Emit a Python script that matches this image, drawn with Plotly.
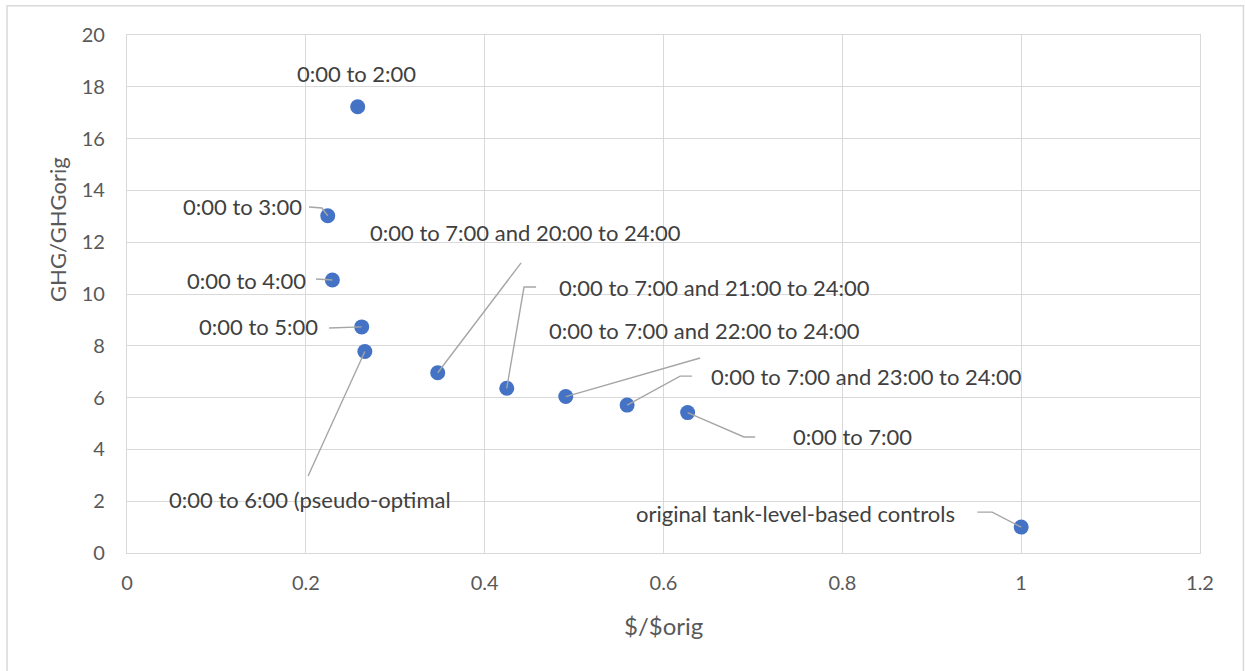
import plotly.graph_objects as go

# Cost ratio vs. greenhouse-gas ratio for each pump-scheduling window
cost_ratio = [0.258, 0.2245, 0.2297, 0.2625, 0.266, 0.3475, 0.4247, 0.4907, 0.5593, 0.627, 1.0]
ghg_ratio = [17.23, 13.02, 10.54, 8.73, 7.78, 6.96, 6.36, 6.04, 5.71, 5.42, 1.0]
schedules = [
    "0:00 to 2:00",
    "0:00 to 3:00",
    "0:00 to 4:00",
    "0:00 to 5:00",
    "0:00 to 6:00 (pseudo-optimal",
    "0:00 to 7:00 and 20:00 to 24:00",
    "0:00 to 7:00 and 21:00 to 24:00",
    "0:00 to 7:00 and 22:00 to 24:00",
    "0:00 to 7:00 and 23:00 to 24:00",
    "0:00 to 7:00",
    "original tank-level-based controls",
]
x_ticks = [0, 0.2, 0.4, 0.6, 0.8, 1, 1.2]
x_tick_text = ["0", "0.2", "0.4", "0.6", "0.8", "1", "1.2"]
y_ticks = [0, 2, 4, 6, 8, 10, 12, 14, 16, 18, 20]

# Label placement: (x, y, horizontal anchor) and the leader-line bend points
label_pos = [
    (0.257, 18.53, "center"),
    (0.198, 13.36, "right"),
    (0.2025, 10.54, "right"),
    (0.216, 8.73, "right"),
    (0.0447, 2.05, "left"),
    (0.2696, 12.36, "left"),
    (0.481, 10.27, "left"),
    (0.470, 8.61, "left"),
    (0.651, 6.83, "left"),
    (0.743, 4.48, "left"),
    (0.567, 1.54, "left"),
]
leader_bends = [
    [],
    [(0.2036, 13.36), (0.218, 13.32)],
    [(0.2114, 10.58)],
    [(0.226, 8.69)],
    [(0.2025, 2.97)],
    [(0.4407, 11.2)],
    [(0.4575, 10.27), (0.444, 10.27)],
    [(0.641, 7.53)],
    [(0.632, 6.83), (0.6186, 6.83)],
    [(0.7025, 4.48), (0.690, 4.48)],
    [(0.951, 1.58), (0.9676, 1.58)],
]

FONT = "Lato"
GRID = "#d9d9d9"

fig = go.Figure()
fig.add_trace(go.Scatter(
    x=cost_ratio, y=ghg_ratio, mode="markers",
    marker=dict(color="#4472C4", size=15, line=dict(width=0)),
    hoverinfo="skip", showlegend=False,
))

shapes = []
for i, bends in enumerate(leader_bends):
    if not bends:
        continue
    pts = bends + [(cost_ratio[i], ghg_ratio[i])]
    path = "M " + " L ".join(f"{px},{py}" for px, py in pts)
    shapes.append(dict(type="path", path=path, xref="x", yref="y",
                       line=dict(color="#a6a6a6", width=1.4), layer="above"))

# Outer chart border
shapes.append(dict(type="rect", xref="paper", yref="paper",
                   x0=-0.1118, x1=1.0405, y0=-0.3, y1=1.0565,
                   line=dict(color=GRID, width=1.5), layer="below"))

annotations = []
for (lx, ly, anchor), text in zip(label_pos, schedules):
    annotations.append(dict(x=lx, y=ly, xref="x", yref="y", text=text,
                            showarrow=False, xanchor=anchor, yanchor="middle",
                            font=dict(family=FONT, size=22, color="#404040")))

annotations.append(dict(x=0.5, y=-0.14, xref="paper", yref="paper", text="$/$orig",
                        showarrow=False, xanchor="center", yanchor="middle",
                        font=dict(family=FONT, size=24, color="#595959")))
annotations.append(dict(x=-0.0643, y=0.6236, xref="paper", yref="paper", text="GHG/GHGorig",
                        textangle=-90, showarrow=False, xanchor="center", yanchor="middle",
                        font=dict(family=FONT, size=22, color="#595959")))

fig.update_layout(
    width=1245, height=671,
    margin=dict(l=127, r=45, t=35, b=118),
    paper_bgcolor="white", plot_bgcolor="white",
    shapes=shapes, annotations=annotations,
    showlegend=False,
)
fig.update_xaxes(range=[0, 1.2], tickvals=x_ticks, ticktext=x_tick_text,
                 showgrid=True, gridcolor=GRID, gridwidth=1.3,
                 showline=True, linecolor=GRID, linewidth=1.3, mirror=True,
                 zeroline=False, ticks="", ticklabelstandoff=12,
                 tickfont=dict(family=FONT, size=20, color="#595959"))
fig.update_yaxes(range=[0, 20], tickvals=y_ticks,
                 showgrid=True, gridcolor=GRID, gridwidth=1.3,
                 showline=True, linecolor=GRID, linewidth=1.3, mirror=True,
                 zeroline=False, ticks="", ticklabelstandoff=17,
                 tickfont=dict(family=FONT, size=20, color="#595959"))

fig.write_html("out.html")
